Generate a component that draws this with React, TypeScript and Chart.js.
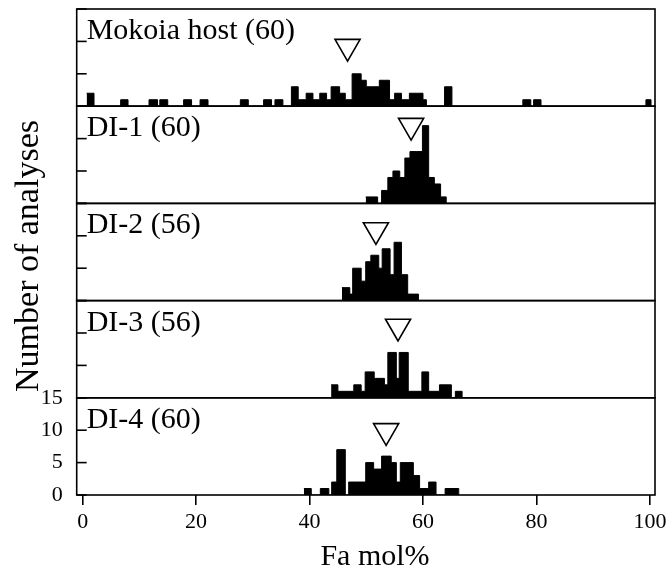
import React, { useEffect, useRef } from 'react';
import { Chart, registerables } from 'chart.js';

Chart.register(...registerables);

// Panel names, top to bottom
const panelLabels = ['Mokoia host (60)', 'DI-1 (60)', 'DI-2 (56)', 'DI-3 (56)', 'DI-4 (60)'];

// Histograms: each count holds from its edge (Fa mol%) up to the next edge
const hostEdges = [0.7, 2.0, 6.7, 8.0, 11.7, 13.2, 13.6, 15.0, 17.8, 19.2, 20.7, 22.1, 27.8, 29.2, 31.9, 33.3, 33.9, 35.3, 36.8, 38.0, 39.4, 40.6, 41.8, 43.0, 43.8, 45.3, 46.3, 47.5, 49.1, 50.0, 50.9, 52.3, 54.1, 55.0, 56.2, 57.6, 58.8, 60.0, 60.6, 63.8, 65.1, 77.6, 79.0, 79.5, 80.8, 99.3, 100.2];
const hostCounts = [2, 0, 1, 0, 1, 0, 1, 0, 1, 0, 1, 0, 1, 0, 1, 0, 1, 0, 3, 1, 2, 1, 2, 1, 3, 2, 1, 5, 4, 3, 3, 4, 1, 2, 1, 2, 2, 1, 0, 3, 0, 1, 0, 1, 0, 1, 0];

const di1Edges = [49.9, 51.0, 52.0, 52.7, 53.8, 54.7, 55.9, 56.8, 57.7, 58.8, 59.9, 61.0, 62.0, 63.1, 64.1];
const di1Counts = [1, 1, 0, 2, 4, 5, 4, 7, 8, 8, 12, 4, 3, 1, 0];

const di2Edges = [45.7, 47.1, 47.6, 49.1, 49.9, 50.8, 52.2, 52.8, 54.2, 54.9, 56.2, 57.3, 58.3, 59.2];
const di2Counts = [2, 1, 5, 3, 6, 7, 5, 8, 4, 9, 4, 1, 1, 0];

const di3Edges = [43.8, 45.0, 47.8, 49.1, 49.8, 51.4, 53.2, 53.8, 55.3, 55.8, 57.4, 59.8, 61.0, 62.9, 65.0, 65.7, 66.9];
const di3Counts = [2, 1, 2, 1, 4, 3, 2, 7, 3, 7, 1, 4, 1, 2, 0, 1, 0];

const di4Edges = [39.0, 40.3, 41.9, 43.4, 43.9, 44.8, 46.3, 46.9, 48.3, 49.9, 51.3, 52.7, 54.4, 55.3, 56.0, 58.3, 59.4, 61.0, 62.3, 63.9, 66.3];
const di4Counts = [1, 0, 1, 0, 2, 7, 0, 2, 2, 5, 4, 6, 5, 2, 5, 3, 1, 2, 0, 1, 0];

// Mean markers (open triangles): Fa mol% and the height (in counts) they sit at
const meanFa = [46.7, 57.9, 51.7, 55.6, 53.5];
const markerHeight = [9.2, 12.0, 10.9, 11.0, 9.9];

const xTickStep = 20;
const yTickStep = 5;
const yMax = 15;

const edgesList = [hostEdges, di1Edges, di2Edges, di3Edges, di4Edges];
const countsList = [hostCounts, di1Counts, di2Counts, di3Counts, di4Counts];
const panelIds = ['y0', 'y1', 'y2', 'y3', 'y4'];

const SERIF = '"Liberation Serif", "Times New Roman", serif';

const framePlugin = {
  id: 'panelFrames',
  afterDatasetsDraw(chart: any) {
    const ctx = chart.ctx;
    const { left, right } = chart.chartArea;
    ctx.save();
    ctx.strokeStyle = '#000';
    ctx.fillStyle = '#000';
    ctx.lineWidth = 1.6;
    panelIds.forEach((id, i) => {
      const s = chart.scales[id];
      ctx.strokeRect(left, s.top, right - left, s.bottom - s.top);
      s.ticks.forEach((t: any) => {
        const yy = s.getPixelForValue(t.value);
        ctx.beginPath();
        ctx.moveTo(left, yy);
        ctx.lineTo(left + 10, yy);
        ctx.stroke();
      });
      ctx.font = '30px ' + SERIF;
      ctx.textAlign = 'left';
      ctx.textBaseline = 'alphabetic';
      ctx.fillText(panelLabels[i], left + 10, s.top + 30);
    });
    // axis titles
    ctx.font = '30px ' + SERIF;
    ctx.textAlign = 'center';
    ctx.textBaseline = 'alphabetic';
    ctx.fillText('Fa mol%', 375, 565);
    ctx.save();
    ctx.translate(38, 256);
    ctx.rotate(-Math.PI / 2);
    ctx.font = '34px ' + SERIF;
    ctx.fillText('Number of analyses', 0, 0);
    ctx.restore();
    ctx.restore();
  },
};

export default function App() {
  const ref = useRef<HTMLCanvasElement>(null);

  useEffect(() => {
    if (!ref.current) return;
    const datasets: any[] = [];
    panelIds.forEach((id, i) => {
      datasets.push({
        type: 'line',
        data: [{ x: meanFa[i], y: markerHeight[i] }],
        yAxisID: id,
        xAxisID: 'x',
        showLine: false,
        pointStyle: 'triangle',
        rotation: 180,
        pointRadius: 14.5,
        pointBackgroundColor: '#fff',
        pointBorderColor: '#000',
        pointBorderWidth: 1.6,
        order: 0,
      });
      datasets.push({
        type: 'line',
        data: edgesList[i].map((e, k) => ({ x: e, y: countsList[i][k] })),
        yAxisID: id,
        xAxisID: 'x',
        stepped: true,
        fill: 'origin',
        backgroundColor: '#000',
        borderColor: '#000',
        borderWidth: 1,
        pointRadius: 0,
        order: 1,
      });
    });

    const yScale = (showLabels: boolean) => ({
      type: 'linear',
      position: 'left',
      stack: 'panels',
      stackWeight: 1,
      min: 0,
      max: yMax,
      grid: { display: false, drawTicks: false },
      border: { display: false },
      ticks: {
        display: showLabels,
        autoSkip: false,
        stepSize: yTickStep,
        padding: 14,
        color: '#000',
        font: { family: SERIF, size: 22 },
      },
      afterFit: (s: any) => {
        s.width = 76.7;
        s.paddingTop = 0;
        s.paddingBottom = 0;
      },
    });

    const chart = new Chart(ref.current, {
      type: 'line',
      data: { datasets },
      options: {
        animation: false,
        responsive: true,
        maintainAspectRatio: false,
        events: [],
        layout: { autoPadding: false, padding: { top: 9, right: 15, left: 0, bottom: 0 } },
        plugins: { legend: { display: false }, tooltip: { enabled: false } },
        scales: {
          x: {
            type: 'linear',
            min: -1.05,
            max: 100.9,
            grid: {
              display: true,
              drawOnChartArea: false,
              drawTicks: true,
              tickLength: 10,
              color: '#000',
              lineWidth: 1.6,
            },
            border: { display: false },
            ticks: {
              stepSize: xTickStep,
              includeBounds: false,
              autoSkip: false,
              padding: 4,
              color: '#000',
              font: { family: SERIF, size: 22 },
              maxRotation: 0,
            },
            afterFit: (s: any) => {
              s.height = 74;
              s.paddingLeft = 0;
              s.paddingRight = 0;
            },
          },
          y4: yScale(true),
          y3: yScale(false),
          y2: yScale(false),
          y1: yScale(false),
          y0: yScale(false),
        } as any,
      },
      plugins: [framePlugin],
    } as any);
    return () => chart.destroy();
  }, []);

  return (
    <div style={{ position: 'fixed', left: 0, top: 0, width: 670, height: 569, background: '#fff' }}>
      <canvas ref={ref} />
    </div>
  );
}
